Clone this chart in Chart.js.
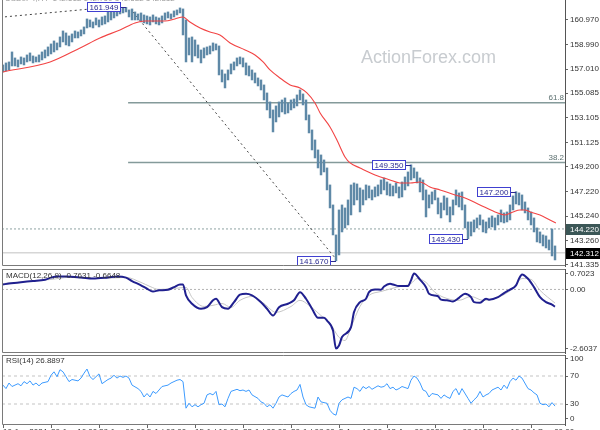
<!DOCTYPE html>
<html>
<head>
<meta charset="utf-8">
<script src="https://cdn.jsdelivr.net/npm/chart.js@4.4.1/dist/chart.umd.min.js"></script>
<style>
html,body{margin:0;padding:0;background:#fff;width:600px;height:430px;overflow:hidden}
canvas{position:absolute;left:0}
#main{top:0}
#macd{top:268px}
#rsi{top:354px}
</style>
</head>
<body>
<canvas id="main" width="600" height="268"></canvas>
<canvas id="macd" width="600" height="86"></canvas>
<canvas id="rsi" width="600" height="76"></canvas>
<script>
// USDJPY H4 bars (one bar every 3px)
const highs = [
157.34,157.50,157.58,158.38,157.90,157.74,157.98,157.90,158.14,158.30,
158.06,157.98,158.14,158.38,158.54,158.78,159.02,159.26,159.10,159.58,
160.06,159.90,159.66,159.82,160.06,159.98,160.14,160.38,161.02,160.94,
160.78,161.10,160.94,161.18,161.26,161.66,161.58,161.74,161.90,161.82,
161.90,161.95,161.74,161.82,161.58,161.42,161.50,161.34,161.26,161.18,
161.34,161.18,161.10,161.26,161.50,161.58,161.42,161.66,161.74,161.90,
161.82,160.94,159.50,159.58,159.34,158.94,158.54,158.70,158.78,158.86,
159.10,159.02,158.86,156.94,156.62,156.94,157.42,157.58,157.90,157.98,
157.90,157.50,157.26,156.94,156.70,156.30,156.14,155.74,155.10,154.38,
153.74,154.06,154.38,154.54,154.70,154.30,154.54,154.62,154.94,155.34,
155.02,154.54,153.34,152.14,151.34,150.54,150.14,149.74,149.10,147.74,
146.14,143.74,145.74,146.14,145.90,146.54,147.74,147.90,147.82,147.50,
147.34,147.74,147.66,147.34,147.58,147.74,148.14,148.30,147.98,147.82,
147.66,147.90,147.58,147.98,148.38,148.78,149.35,149.10,148.78,148.30,
148.14,147.34,146.94,147.18,147.34,146.70,146.30,146.86,146.70,145.98,
146.54,147.34,147.10,147.18,146.14,144.78,144.78,144.94,145.10,145.34,
144.94,144.78,145.10,145.26,145.10,145.34,145.74,145.50,145.58,146.14,
146.86,147.20,147.10,146.94,146.38,145.90,145.58,145.10,144.30,143.98,
143.74,143.66,143.34,144.22,142.86];
const lows = [
156.78,156.86,156.94,157.26,157.26,157.18,157.42,157.34,157.58,157.66,
157.50,157.58,157.58,157.74,157.90,158.06,158.22,158.38,158.54,158.78,
159.18,158.94,158.86,159.18,159.50,159.50,159.66,159.82,160.30,160.38,
160.30,160.54,160.38,160.54,160.62,160.78,160.94,161.10,161.26,161.42,
161.50,161.58,161.18,160.94,160.94,160.94,160.78,160.70,160.62,160.54,
160.78,160.62,160.54,160.70,160.94,161.10,161.02,161.18,161.34,161.50,
159.74,157.58,158.14,157.58,158.06,157.90,157.50,157.90,158.14,158.22,
158.46,158.54,156.54,155.98,155.50,156.14,156.62,156.94,157.26,157.42,
157.18,156.54,156.46,156.14,155.90,155.66,155.34,154.54,153.74,153.10,
151.98,152.78,153.18,153.58,153.42,153.50,153.74,153.90,154.06,154.54,
154.14,152.94,151.90,150.54,149.90,149.10,148.54,148.78,147.34,145.90,
143.74,141.67,142.14,143.98,144.30,144.54,145.34,146.14,146.54,145.58,
146.14,146.54,146.70,146.54,146.78,146.86,147.02,147.34,146.94,146.86,
146.86,147.10,146.70,146.78,147.34,147.66,148.14,148.30,147.90,147.18,
146.54,145.18,145.90,146.22,146.54,145.42,145.10,145.74,145.34,144.78,
145.34,146.14,145.98,145.74,144.30,143.43,143.66,143.98,144.30,144.54,
143.98,143.90,144.30,144.38,144.14,144.54,144.78,144.70,144.78,144.94,
145.74,146.22,146.14,145.74,145.50,144.94,144.54,143.98,143.18,143.10,
142.86,142.70,142.54,142.06,141.74];

// moving average (red)
const maIdx = [0,15.7,25.7,32.3,39,44,47.3,54,57.3,60,62.3,65.7,69,72.3,75.7,80.7,84,86.7,89,92.3,95.7,99,101.3,104,105.7,109,111.3,114,115.7,119,124,129,132.3,135.7,139,142.3,145.7,150.7,154,159,164,167.3,170,172.3,174,175.7,179,182.3,184.3];
const maVal = [156.78,157.58,158.70,159.50,160.14,160.70,160.86,160.86,161.02,161.18,160.78,160.30,159.98,159.74,159.10,158.54,158.14,157.58,156.94,156.30,155.74,155.50,155.10,154.30,153.50,152.38,151.34,149.98,149.50,149.10,148.54,148.14,147.90,147.90,147.98,147.58,147.34,146.94,146.70,146.14,145.58,145.34,145.58,145.74,145.74,145.58,145.34,144.94,144.70];

// MACD(12,26,9)
const macdIdx = [0,2,6,10,14,16,18,21,26,30,35,38,41,43,46,48,50,52,55,57,59,60,61,63,66,68,70,71,73,75,77,79,81,83,86,88,90,92,95,97,99,101,103,105,107,108,110,111,112,113,116,117,119,121,122,124,126,127,129,130,132,135,136,137,139,141,142,145,146,148,150,152,154,156,157,159,161,162,165,167,169,171,172,173,175,177,179,181,183,184];
const macdVal = [0.22,0.26,0.32,0.37,0.43,0.52,0.57,0.57,0.53,0.48,0.53,0.57,0.52,0.37,0.18,0.03,-0.09,-0.04,-0.01,0.10,0.22,0.22,-0.26,-0.63,-0.85,-0.78,-0.48,-0.41,-0.78,-0.85,-0.56,-0.23,-0.19,-0.26,-0.56,-0.85,-1.15,-0.78,-0.63,-0.48,-0.12,-0.41,-0.85,-1.25,-1.25,-1.37,-1.81,-2.60,-2.47,-2.10,-1.66,-1.00,-0.56,-0.41,-0.12,0.00,-0.01,0.13,0.25,0.22,0.15,0.15,0.40,0.70,0.43,0.10,-0.19,-0.30,-0.45,-0.48,-0.53,-0.37,-0.19,-0.34,-0.56,-0.59,-0.41,-0.45,-0.34,-0.16,-0.01,0.18,0.47,0.66,0.47,0.10,-0.34,-0.56,-0.67,-0.76];
const sigIdx = [0,16,22,32,41,46,49,52,57,61,63,67,70,73,76,79,83,87,91,96,99,102,106,109,112,114,116,119,122,126,131,136,138,141,144,148,152,156,160,164,170,173,176,179,184];
const sigVal = [0.26,0.44,0.53,0.48,0.53,0.31,0.13,0.00,0.04,0.09,-0.35,-0.75,-0.70,-0.62,-0.79,-0.48,-0.31,-0.62,-1.01,-0.75,-0.48,-0.70,-1.15,-1.50,-2.11,-2.25,-1.67,-0.75,-0.26,-0.09,0.09,0.26,0.48,0.31,-0.13,-0.40,-0.48,-0.31,-0.48,-0.40,0.04,0.48,0.44,-0.04,-0.60];

// RSI(14)
const rsiIdx = [
0,1,2,3,5,6,7,8,9,10,
11,12,13,15,16,17,18,19,20,21,
22,23,25,26,27,28,29,30,31,32,
33,35,36,37,38,39,40,41,42,43,
45,46,47,48,49,50,51,52,53,55,
56,57,58,59,60,61,62,63,64,65,
66,67,68,69,70,71,72,73,74,75,
76,78,79,80,81,82,83,85,86,87,
88,89,90,91,92,93,95,96,97,98,
99,100,101,102,104,105,106,108,109,110,
111,112,113,115,116,117,118,119,120,121,
122,123,125,126,127,128,129,130,131,132,
133,135,136,137,138,139,140,141,142,143,
145,146,147,148,149,150,151,152,153,155,
156,157,158,159,160,161,162,163,165,166,
167,168,169,170,171,172,173,175,176,177,
178,179,180,181,182,183,184];
const rsiVal = [
57,52,60,55,59,56,62,59,63,57,
60,56,60,62,71,76,69,79,76,69,
62,65,63,67,74,80,69,65,69,73,
59,65,67,71,67,70,68,70,67,57,
52,48,40,45,40,48,45,50,55,57,
60,62,64,65,62,24,31,26,29,26,
29,31,43,45,43,48,29,30,26,38,
48,51,49,50,48,50,43,38,33,31,
26,29,24,31,40,43,40,45,48,50,
58,40,29,26,24,40,33,31,21,16,
14,31,36,40,38,54,52,48,55,52,
55,51,56,54,55,59,52,54,50,52,
55,52,64,70,67,60,50,48,40,45,
43,38,43,40,38,48,52,43,52,38,
31,36,40,48,40,43,45,50,54,50,
57,52,62,67,64,70,67,52,50,46,
43,31,29,30,26,32,27];

// axes
const priceTicks = [160.970,158.990,157.010,155.085,153.105,151.125,149.200,147.220,145.240,143.260,141.335];
const macdTicks = [0.7023,0,-2.6037];
const macdTickText = ["0.7023","0.00","-2.6037"];
const rsiTicks = [100,70,30,0];
const xTickIdx = [0,16,32,48,64,80,96,112,128,144,160,176];
const xLabels = ["10 Jun 2024","20 Jun 16:00","28 Jun 00:00","5 Jul 08:00","15 Jul 16:00","23 Jul 00:00",
                 "30 Jul 08:00","5 Aug 16:00","13 Aug 00:00","20 Aug 08:00","27 Aug 16:00","4 Sep 00:00"];

// drawings on the price panel
const pivotIdx = [41,111,136,155,171];
const pivotVal = [161.949,141.670,149.350,143.430,147.200];
const fibVal = [154.32,149.53];
const fibText = ["61.8","38.2"];
const fibFrom = 41.7;
const trend1Idx = [-1,29.3], trend1Val = [161.15,161.82];
const trend2Idx = [43.3,110.7], trend2Val = [161.58,141.90];
const bidLine = 144.220, lastPrice = 142.312;
const rsiLevels = [70,30];

const X_MIN = -1/3, X_MAX = 187.33;
const FONT = "Liberation Sans";
Chart.defaults.font.family = FONT;
Chart.defaults.font.size = 8;

const el = id => document.getElementById(id);
const pts = (idx, val) => idx.map((x,k) => ({x, y: val[k]}));
const hline = (v, from) => [{x: from, y: v}, {x: X_MAX, y: v}];

function yAxis(min, max, pos, text){
  return {
    position: "right", min, max,
    afterFit(s){ s.width = 35; s.paddingTop = 0; s.paddingBottom = 0; },
    afterBuildTicks(s){ s.ticks = pos.map(v => ({value: v})); },
    ticks: { autoSkip: false, padding: 2, color: "#333", font: {size: 8}, callback: (v,i) => text[i] },
    grid: { drawOnChartArea: false, tickLength: 3, color: "#666" },
    border: { display: true, color: "#555", width: 1 }
  };
}
const xHidden = {type: "linear", min: X_MIN, max: X_MAX, offset: false, display: false, grid: {offset: false}};

function frame(g, a, top){
  g.save();
  g.strokeStyle = "#7a7a7a"; g.lineWidth = 1;
  g.beginPath();
  if(top){ g.moveTo(a.left+0.5, a.top+0.5); g.lineTo(a.right, a.top+0.5); }
  g.moveTo(a.left+0.5, a.top); g.lineTo(a.left+0.5, a.bottom-0.5); g.lineTo(a.right, a.bottom-0.5);
  g.stroke();
  g.restore();
}

const base = {
  responsive: false, animation: false, events: [],
  plugins: { legend: {display: false}, tooltip: {enabled: false} }
};

// ---------- price panel ----------
const mainDeco = {
  id: "mainDeco",
  beforeDatasetsDraw(c){
    const g = c.ctx;
    g.save();
    g.font = "18px " + FONT; g.fillStyle = "#c8ccd0"; g.textBaseline = "alphabetic";
    g.fillText("ActionForex.com", 361, 62.5);
    g.font = "8px " + FONT; g.fillStyle = "#999";
    g.fillText("USDJPY,H4  142.512 142.760 141.682 142.312", 5, 0.5);
    g.restore();
  },
  afterDatasetsDraw(c){
    const g = c.ctx, x = c.scales.x, y = c.scales.y, a = c.chartArea;
    g.save();
    g.font = "8px " + FONT;
    // fib level texts
    g.fillStyle = "#5c7070"; g.textAlign = "right"; g.textBaseline = "bottom";
    fibVal.forEach((v,k) => g.fillText(fibText[k], a.right - 1, y.getPixelForValue(v) - 1));
    // pivot boxes
    g.textAlign = "center"; g.textBaseline = "middle";
    pivotVal.forEach((v,k) => {
      const px = Math.round(x.getPixelForValue(pivotIdx[k]));
      const py = Math.round(y.getPixelForValue(v));
      const t = v.toFixed(3), w = Math.round(g.measureText(t).width) + 5, h = 10;
      const right = px - 5, left = right - w, top = py - 5;
      g.strokeStyle = "#2a2a90"; g.lineWidth = 1;
      g.beginPath(); g.moveTo(right, py + 0.5); g.lineTo(px, py + 0.5); g.stroke();
      g.fillStyle = "#fff"; g.fillRect(left, top, w, h);
      g.strokeStyle = "#4040d0"; g.strokeRect(left + 0.5, top + 0.5, w - 1, h - 1);
      g.fillStyle = "#2a2a90"; g.fillText(t, left + w/2, top + h/2 + 0.5);
    });
    g.restore();
  },
  afterDraw(c){
    const g = c.ctx, y = c.scales.y, a = c.chartArea;
    frame(g, a, false);
    g.save();
    g.font = "8px " + FONT; g.textBaseline = "middle"; g.textAlign = "left";
    [[bidLine, "#3b5757"], [lastPrice, "#000"]].forEach(([v, col]) => {
      const py = Math.round(y.getPixelForValue(v));
      g.fillStyle = col; g.fillRect(a.right + 1, py - 5, 34, 11);
      g.fillStyle = "#fff"; g.fillText(v.toFixed(3), a.right + 5, py + 0.5);
    });
    g.restore();
  }
};

new Chart(el("main"), {
  type: "bar",
  data: { datasets: [
    { type: "line", data: pts(maIdx, maVal), borderColor: "#f24444", borderWidth: 1.1,
      pointRadius: 0, cubicInterpolationMode: "monotone", order: 1 },
    { type: "bar", data: highs.map((h,i) => ({x: i, y: [lows[i], h]})), backgroundColor: "#5f89a7",
      borderWidth: 0, barThickness: 1.8, grouped: false, order: 2 },
    { type: "line", data: pts(trend1Idx, trend1Val), borderColor: "#444", borderWidth: 1,
      borderDash: [2,3], pointRadius: 0, order: 3 },
    { type: "line", data: pts(trend2Idx, trend2Val), borderColor: "#444", borderWidth: 1,
      borderDash: [2,3], pointRadius: 0, order: 3 },
    { type: "line", data: hline(fibVal[0], fibFrom), borderColor: "#849a9a", borderWidth: 1.6, pointRadius: 0, order: 4 },
    { type: "line", data: hline(fibVal[1], fibFrom), borderColor: "#849a9a", borderWidth: 1.6, pointRadius: 0, order: 4 },
    { type: "line", data: hline(bidLine, X_MIN), borderColor: "#8fa3a3", borderWidth: 1,
      borderDash: [2,2], pointRadius: 0, order: 4 },
    { type: "line", data: hline(lastPrice, X_MIN), borderColor: "#d6d6d6", borderWidth: 1.5, pointRadius: 0, order: 4 }
  ]},
  options: Object.assign({}, base, {
    layout: { padding: {left: 2, top: 0, right: 0, bottom: 2} },
    scales: {
      x: xHidden,
      y: yAxis(141.255, 162.535, priceTicks, priceTicks.map(v => v.toFixed(3)))
    }
  }),
  plugins: [mainDeco]
});

// ---------- MACD panel ----------
const macdDeco = {
  id: "macdDeco",
  afterDraw(c){
    const g = c.ctx, a = c.chartArea;
    frame(g, a, true);
    g.save();
    g.font = "8px " + FONT; g.fillStyle = "#333"; g.textBaseline = "middle";
    g.fillText("MACD(12,26,9) -0.7631 -0.6648", a.left + 4, a.top + 7);
    g.restore();
  }
};
new Chart(el("macd"), {
  type: "line",
  data: { datasets: [
    { data: pts(macdIdx, macdVal), borderColor: "#20208f", borderWidth: 2, pointRadius: 0,
      cubicInterpolationMode: "monotone", order: 1 },
    { data: pts(sigIdx, sigVal), borderColor: "#c6c6c6", borderWidth: 1, pointRadius: 0,
      cubicInterpolationMode: "monotone", order: 2 },
    { data: hline(0, X_MIN), borderColor: "#b4b4b4", borderWidth: 1, borderDash: [2,2], pointRadius: 0, order: 3 }
  ]},
  options: Object.assign({}, base, {
    layout: { padding: {left: 2, top: 1, right: 0, bottom: 1} },
    scales: { x: xHidden, y: yAxis(-2.8, 0.9, macdTicks, macdTickText) }
  }),
  plugins: [macdDeco]
});

// ---------- RSI panel ----------
const rsiDeco = {
  id: "rsiDeco",
  afterDraw(c){
    const g = c.ctx, a = c.chartArea;
    frame(g, a, true);
    g.save();
    g.font = "8px " + FONT; g.fillStyle = "#333"; g.textBaseline = "middle";
    g.fillText("RSI(14) 26.8897", a.left + 4, a.top + 6);
    g.restore();
  }
};
// edge labels sit a little inside the panel, as in the terminal
const rsiTickPos = rsiTicks.map(v => v === 100 ? 94.3 : v === 0 ? 8.6 : v);
new Chart(el("rsi"), {
  type: "line",
  data: { datasets: [
    { data: pts(rsiIdx, rsiVal), borderColor: "#3d9bff", borderWidth: 1, pointRadius: 0, order: 1 },
    { data: hline(rsiLevels[0], X_MIN), borderColor: "#c4c4c4", borderWidth: 1, borderDash: [3,3], pointRadius: 0, order: 2 },
    { data: hline(rsiLevels[1], X_MIN), borderColor: "#c4c4c4", borderWidth: 1, borderDash: [3,3], pointRadius: 0, order: 2 }
  ]},
  options: Object.assign({}, base, {
    layout: { padding: {left: 2, top: 1, right: 0, bottom: 0} },
    scales: {
      x: {
        type: "linear", min: X_MIN, max: X_MAX, position: "bottom", offset: false,
        afterFit(s){ s.height = 5; s.paddingLeft = 0; s.paddingRight = 0; },
        afterBuildTicks(s){ s.ticks = xTickIdx.map(v => ({value: v})); },
        ticks: { autoSkip: false, maxRotation: 0, minRotation: 0, align: "start", padding: -1,
                 color: "#333", font: {size: 8}, callback: (v,i) => xLabels[i] },
        grid: { drawOnChartArea: false, tickLength: 3, color: "#666", offset: false },
        border: { display: false }
      },
      y: yAxis(0, 100, rsiTickPos, rsiTicks.map(String))
    }
  }),
  plugins: [rsiDeco]
});
</script>
</body>
</html>
